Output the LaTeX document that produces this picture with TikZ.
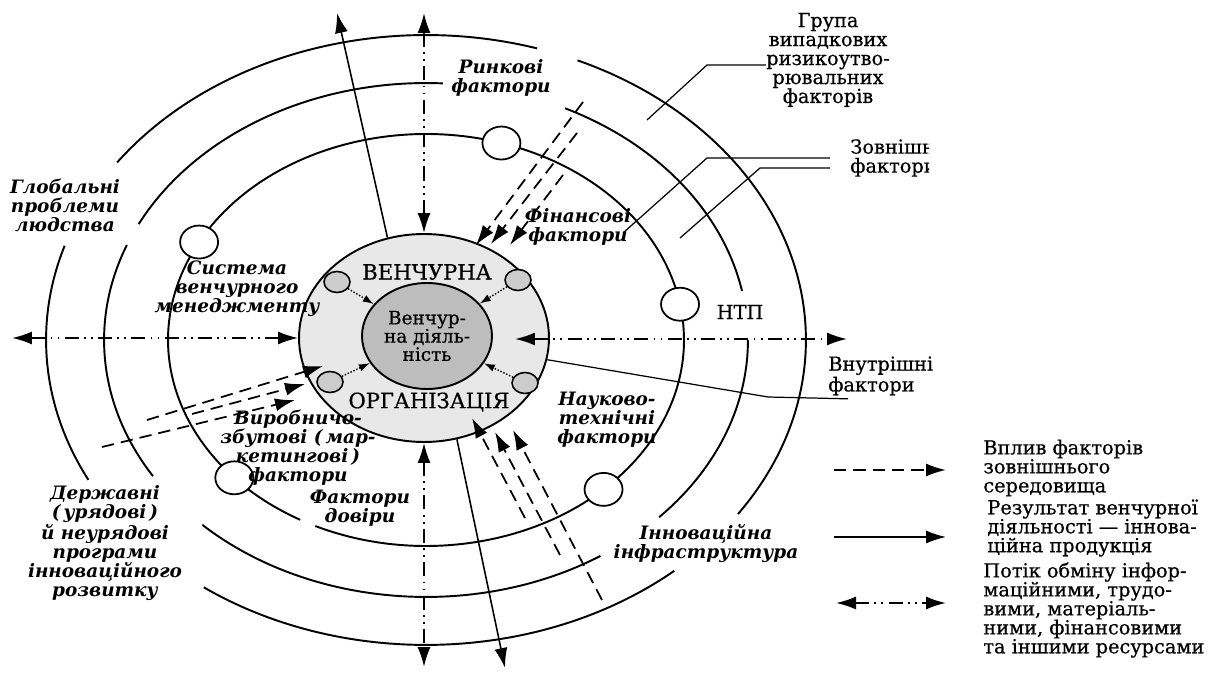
\documentclass[tikz,border=0pt]{standalone}
\usepackage{fontspec}
\setmainfont{DejaVu Serif}
\newfontfamily\lblfont{DejaVu Serif}[FakeBold=0.6]
\usetikzlibrary{arrows.meta,shapes.geometric}
\definecolor{ringfill}{gray}{0.91}
\definecolor{corefill}{gray}{0.74}
\definecolor{dotfill}{gray}{0.8}

\begin{document}
\begin{tikzpicture}[x=0.02cm, y=0.02cm, >={Latex[length=4mm,width=2.6mm]},
  ring/.style={line width=1.1pt},
  res/.style={->, line width=0.9pt},
  infl/.style={->, line width=1pt, dash pattern=on 7pt off 4pt},
  flow/.style={<->, line width=1pt, dash pattern=on 8pt off 3pt on 1pt off 3pt on 1pt off 3pt},
  feed/.style={-{Latex[length=2.2mm,width=1.5mm]}, densely dotted, line width=0.8pt},
  lead/.style={line width=0.7pt},
  wc/.style={ellipse, draw, line width=1pt, fill=white, inner sep=0pt, minimum width=0.76cm, minimum height=0.66cm},
  gc/.style={ellipse, draw, line width=0.9pt, fill=dotfill, inner sep=0pt, minimum width=0.52cm, minimum height=0.42cm},
  fct/.style={font=\fontsize{10.5}{10.8}\selectfont\bfseries\itshape, align=center, inner sep=0pt},
  lbl/.style={font=\lblfont\fontsize{11}{10.8}\selectfont, align=center, inner sep=0pt}]
\useasboundingbox (-426,-335) rectangle (787,340);

% rings round the organisation
\draw[ring] (144.4:7.6cm and 6.1cm) arc (144.4:73:7.6cm and 6.1cm);
\draw[ring] (66.5:7.6cm and 6.1cm) arc (66.5:-34.8:7.6cm and 6.1cm);
\draw[ring] (-49.2:7.6cm and 6.1cm) arc (-49.2:-125.8:7.6cm and 6.1cm);
\draw[ring] (162:7.6cm and 6.1cm) arc (162:207.3:7.6cm and 6.1cm);
\draw[ring] (153.2:6.44cm and 5.14cm) arc (153.2:87:6.44cm and 5.14cm);
\draw[ring] (64.4:6.44cm and 5.14cm) arc (64.4:11:6.44cm and 5.14cm);
\draw[ring] (0:6.44cm and 5.14cm) arc (0:-43.6:6.44cm and 5.14cm);
\draw[ring] (-57.2:6.44cm and 5.14cm) arc (-57.2:-134:6.44cm and 5.14cm);
\draw[ring] (158.3:6.44cm and 5.14cm) arc (158.3:212:6.44cm and 5.14cm);
\draw[ring] (244.6:5.16cm and 4.12cm) arc (244.6:600.8:5.16cm and 4.12cm);

% the organisation and its core
\node[ellipse, draw, ring, fill=ringfill, minimum width=5cm, minimum height=4.16cm] (org) at (-2,2) {};
\node[ellipse, draw, ring, fill=corefill, lbl, font=\lblfont\fontsize{10.5}{10.4}\selectfont, minimum width=2.6cm, minimum height=2.12cm] (core) at (1,4) {Венчур-\\на діяль-\\ність};
\node[lbl, font=\lblfont\fontsize{12}{12}\selectfont] (ven) at (1,68) {ВЕНЧУРНА};
\node[lbl, font=\lblfont\fontsize{12}{12}\selectfont] (orgn) at (3,-62) {ОРГАНІЗАЦІЯ};

\node[gc] (g1) at (-89,58) {};
\node[gc] (g2) at (92,60) {};
\node[gc] (g3) at (-96,-42) {};
\node[gc] (g4) at (99,-43) {};
\foreach \g in {g1,g2,g3,g4} \draw[feed] (\g) -- (core);

\foreach \a/\n in {151.6/w1, 73/w2, 10/w3, -46.5/w4, 222/w5}
  \node[wc] (\n) at (\a:5.16cm and 4.12cm) {};

% results and exchange flows
\coordinate (outN) at (-89,327);
\coordinate (upN) at (-2,327);
\coordinate (dnS) at (-2,-327);
\coordinate (outS) at (79,-328);
\coordinate (outW) at (-414,2);
\coordinate (inE) at (89,1);
\coordinate (outE) at (421,1);
\draw[res] (org.110) -- (outN);
\draw[res] (org.288) -- (outS);
\draw[flow] (org.north) -- (upN);
\draw[flow] (org.south) -- (dnS);
\draw[flow] (org.west) -- (outW);
\draw[flow] (inE) -- (outE);

% influence of the environment
\coordinate (su1) at (157,238); \coordinate (eu1) at (50,95);
\coordinate (su2) at (151,207); \coordinate (eu2) at (65,96);
\coordinate (su3) at (137,165); \coordinate (eu3) at (84,95);
\coordinate (sl1) at (-279,-80); \coordinate (el1) at (-103,-26);
\coordinate (sl2) at (-324,-107); \coordinate (el2) at (-131,-60);
\coordinate (sl3) at (-234,-74); \coordinate (el3) at (-121,-44);
\coordinate (sb1) at (99,-178); \coordinate (eb1) at (46,-78);
\coordinate (sb2) at (134,-215); \coordinate (eb2) at (69,-92);
\coordinate (sb3) at (176,-260); \coordinate (eb3) at (87,-90);
\foreach \a in {u1,u2,u3,l1,l2,l3,b1,b2,b3} \draw[infl] (s\a) -- (e\a);

% labels
\node[lbl] (grp) at (402,280) {Група\\випадкових\\ризикоутво-\\рювальних\\факторів};
\begin{scope}
\clip (-426,-335) rectangle (503,340);
\node[lbl, anchor=west, align=left] (ext) at (424,182) {Зовнішні\\фактори};
\end{scope}
\node[lbl] (ntp) at (314,28) {НТП};
\node[lbl, anchor=west, align=left] (int) at (402,-36) {Внутрішні\\фактори};
\node[fct] (mkt) at (75,262) {Ринкові\\фактори};
\node[fct] (fin) at (152,113) {Фінансові\\фактори};
\node[fct] (sci) at (181,-80) {Науково-\\технічні\\фактори};
\node[fct] (inf) at (280,-204) {Інноваційна\\інфраструктура};
\node[fct] (trust) at (-66,-168) {Фактори\\довіри};
\node[fct] (prod) at (-128,-108) {Виробничо-\\збутові (\,мар-\\кетингові\,)\\фактори};
\node[fct] (mgmt) at (-189,51) {Система\\венчурного\\менеджменту};
\node[fct] (glob) at (-361,135) {Глобальні\\проблеми\\людства};
\node[fct] (gov) at (-321,-203) {Державні\\(\,урядові\,)\\й неурядові\\програми\\інноваційного\\розвитку};

\coordinate (zg) at (221,220);
\coordinate (zx1) at (197,107);
\coordinate (zx2) at (254,102);
\draw[lead] (zg) -- (281,275) -- ([yshift=-0.1cm]grp.west);
\draw[lead] (zx1) -- (281,182) -- ([xshift=-0.4cm]ext.west);
\draw[lead] (zx2) -- (334,172) -- ([xshift=-0.4cm,yshift=-0.2cm]ext.west);
\draw[lead] (org.350) -- (342,-57) -- ([xshift=0.4cm,yshift=-0.06cm]int.south west);

% legend
\coordinate (k1a) at (408,-130); \coordinate (k1b) at (520,-130);
\coordinate (k2a) at (408,-197); \coordinate (k2b) at (520,-197);
\coordinate (k3a) at (410,-263); \coordinate (k3b) at (520,-263);
\draw[infl] (k1a) -- (k1b);
\draw[res] (k2a) -- (k2b);
\draw[flow] (k3a) -- (k3b);
\node[lbl, anchor=west, align=left] (lg1) at (557,-128) {Вплив факторів\\зовнішнього\\середовища};
\node[lbl, anchor=west, align=left] (lg2) at (561,-188) {Результат венчурної\\діяльності — іннова-\\ційна продукція};
\node[lbl, anchor=west, align=left] (lg3) at (557,-270) {Потік обміну інфор-\\маційними, трудо-\\вими, матеріаль-\\ними, фінансовими\\та іншими ресурсами};
\end{tikzpicture}
\end{document}
